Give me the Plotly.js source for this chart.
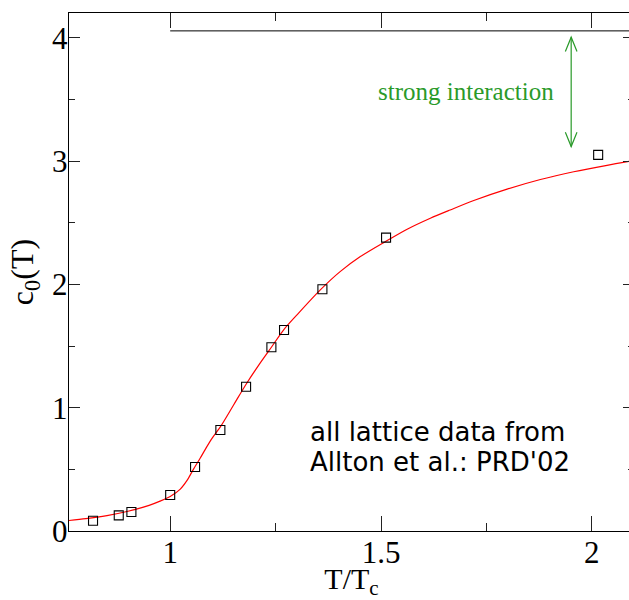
<!DOCTYPE html>
<html>
<head>
<meta charset="utf-8">
<script src="https://cdn.plot.ly/plotly-3.0.1.min.js"></script>
<style>
html, body { margin: 0; padding: 0; overflow: hidden; background: #fff; }
#chart { width: 634px; height: 600px; }
</style>
</head>
<body>
<div id="chart"></div>
<script>
// Lattice data (Allton et al.)
const latticeT = [0.817, 0.878, 0.908, 1.000, 1.059, 1.119, 1.180, 1.240, 1.270, 1.361, 1.512, 2.015];
const latticeC = [0.083, 0.127, 0.154, 0.292, 0.519, 0.819, 1.170, 1.490, 1.630, 1.960, 2.379, 3.050];

// Fit curve
const curveT = [0.76, 0.80, 0.85, 0.90, 0.95, 0.976, 1.00, 1.024, 1.04, 1.055, 1.071, 1.087, 1.10, 1.12, 1.15, 1.18, 1.21, 1.24, 1.27, 1.30, 1.356, 1.403, 1.451, 1.510, 1.562, 1.617, 1.664, 1.720, 1.799, 1.878, 1.957, 2.036, 2.10];
const curveC = [0.085, 0.100, 0.125, 0.160, 0.208, 0.242, 0.280, 0.340, 0.410, 0.500, 0.590, 0.684, 0.755, 0.850, 1.020, 1.190, 1.345, 1.490, 1.635, 1.750, 1.955, 2.103, 2.225, 2.346, 2.447, 2.536, 2.603, 2.680, 2.772, 2.850, 2.913, 2.965, 3.003];

// Free (non-interacting) limit line
const limitT = [1.0, 2.1];
const limitC = [4.055, 4.055];

// Arrow marking "strong interaction"
const arrowT = 1.951;
const arrowTop = 4.004;
const arrowBottom = 3.117;

const xTickVals = [1, 1.5, 2];
const xTickText = ['1', '1.5', '2'];
const yTickVals = [0, 1, 2, 3, 4];
const yTickText = ['0', '1', '2', '3', '4'];

const serif = 'Liberation Serif, DejaVu Serif, serif';
const green = '#2a9a2a';

const traces = [
  { x: curveT, y: curveC, mode: 'lines', line: { color: '#ff0000', width: 1.2, shape: 'spline', smoothing: 0.8 }, hoverinfo: 'skip' },
  { x: latticeT, y: latticeC, mode: 'markers',
    marker: { symbol: 'square-open', size: 9, color: '#000', line: { color: '#000', width: 1.1 } } },
  { x: limitT, y: limitC, mode: 'lines', line: { color: '#000', width: 1 } }
];

const hw = 0.0138, hl = 0.116;
const shapes = [
  { type: 'line', xref: 'x', yref: 'y', x0: arrowT, x1: arrowT, y0: arrowBottom, y1: arrowTop, line: { color: green, width: 1.2 } },
  { type: 'path', xref: 'x', yref: 'y',
    path: `M ${arrowT - hw},${arrowTop - hl} L ${arrowT},${arrowTop} L ${arrowT + hw},${arrowTop - hl}`,
    line: { color: green, width: 1.2 } },
  { type: 'path', xref: 'x', yref: 'y',
    path: `M ${arrowT - hw},${arrowBottom + hl} L ${arrowT},${arrowBottom} L ${arrowT + hw},${arrowBottom + hl}`,
    line: { color: green, width: 1.2 } }
];

const annotations = [
  { x: 1.702, y: 3.56, xref: 'x', yref: 'y', text: 'strong interaction', showarrow: false,
    font: { family: serif, size: 25, color: green }, xanchor: 'center', yanchor: 'middle' },
  { x: 1.326, y: 0.80, xref: 'x', yref: 'y', text: 'all lattice data from', showarrow: false,
    font: { family: 'DejaVu Sans, sans-serif', size: 26, color: '#000' }, xanchor: 'left', yanchor: 'middle' },
  { x: 1.326, y: 0.557, xref: 'x', yref: 'y', text: "Allton et al.: PRD'02", showarrow: false,
    font: { family: 'DejaVu Sans, sans-serif', size: 26, color: '#000' }, xanchor: 'left', yanchor: 'middle' }
];

const layout = {
  width: 634, height: 600,
  margin: { l: 69, r: 0, t: 13, b: 69, pad: 0 },
  paper_bgcolor: '#fff', plot_bgcolor: '#fff',
  showlegend: false,
  xaxis: {
    range: [0.76, 2.1], tickvals: xTickVals, ticktext: xTickText,
    ticks: 'inside', ticklen: 15, tickwidth: 1, tickcolor: '#222',
    minor: { tickvals: [1.25, 1.75], ticks: 'inside', ticklen: 8, tickwidth: 1, tickcolor: '#222' },
    showline: true, linewidth: 1.4, linecolor: '#000', mirror: 'ticks',
    showgrid: false, zeroline: false,
    ticklabelstandoff: -7,
    tickfont: { family: serif, size: 31, color: '#000' },
    title: { text: 'T/T<sub>c</sub>', font: { family: serif, size: 30, color: '#000' }, standoff: 9 }
  },
  yaxis: {
    range: [0, 4.2], tickvals: yTickVals, ticktext: yTickText,
    ticks: 'inside', ticklen: 11, tickwidth: 1, tickcolor: '#222',
    minor: { dtick: 0.5, ticks: 'inside', ticklen: 6, tickwidth: 1, tickcolor: '#222' },
    showline: true, linewidth: 1.4, linecolor: '#000', mirror: 'ticks',
    showgrid: false, zeroline: false,
    ticklabelstandoff: -6,
    tickfont: { family: serif, size: 31, color: '#000' },
    title: { text: 'c<sub>0</sub>(T)', font: { family: serif, size: 32, color: '#000' }, standoff: 8 }
  },
  shapes: shapes,
  annotations: annotations
};

Plotly.newPlot('chart', traces, layout, { staticPlot: true, displayModeBar: false });
</script>
</body>
</html>
